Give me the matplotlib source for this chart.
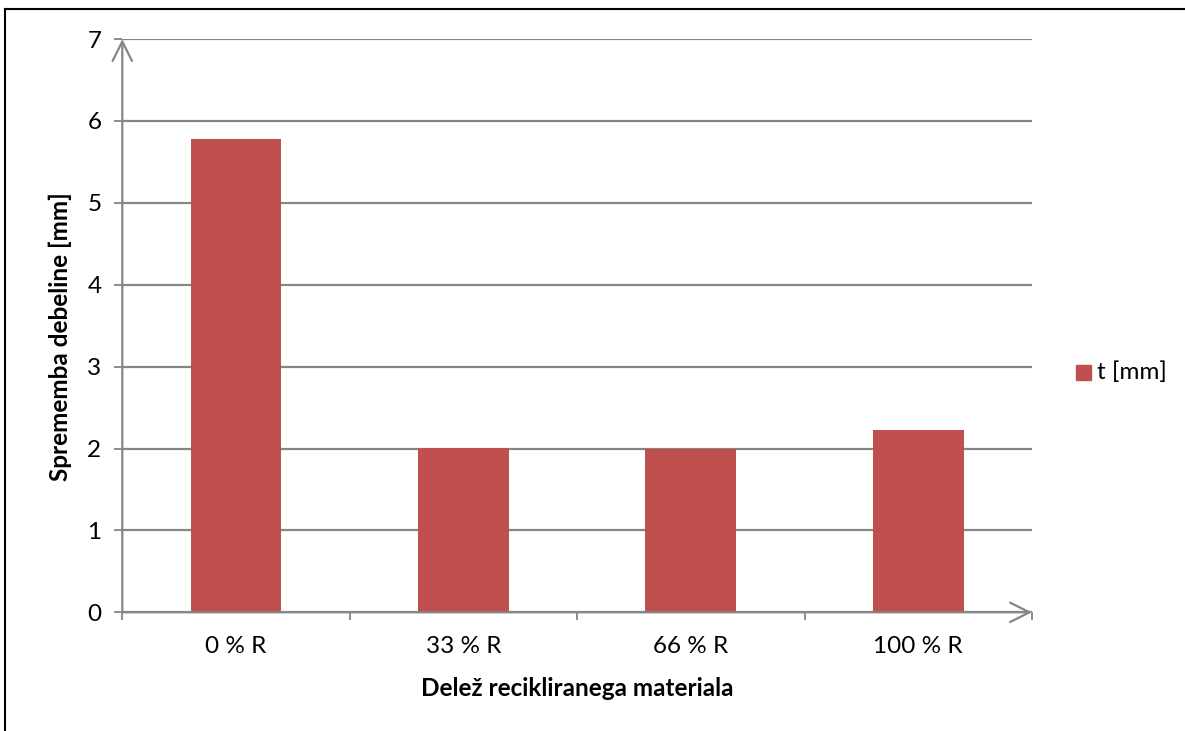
import matplotlib
matplotlib.use("Agg")
import matplotlib.pyplot as plt
from matplotlib.lines import Line2D
from matplotlib.patches import Rectangle

categories = ["0 % R", "33 % R", "66 % R", "100 % R"]
thickness_change = [5.78, 2.01, 2.00, 2.23]
series_label = "t [mm]"
y_ticks = [0, 1, 2, 3, 4, 5, 6, 7]

BAR = "#C0504D"
GRID = "#868686"
TEXT = "#000000"
FONT = "Lato"

plt.rcParams["font.family"] = [FONT, "DejaVu Sans"]

W, H = 1185, 731
fig = plt.figure(figsize=(W / 100, H / 100), dpi=100)
ax = fig.add_axes([122.3 / W, 1 - 612.3 / H, (1032 - 122.3) / W, (612.3 - 39) / H])

x = list(range(len(categories)))
ax.bar(x, thickness_change, width=0.4, color=BAR, zorder=3)

ax.set_xlim(-0.5, len(categories) - 0.5)
ax.set_ylim(0, 7)
ax.set_yticks(y_ticks)
ax.set_xticks(x)
ax.set_xticklabels(categories)
ax.set_xticks([i - 0.5 for i in range(len(categories) + 1)], minor=True)
ax.tick_params(axis="x", which="major", length=0, pad=17, labelsize=17.5, labelcolor=TEXT)
ax.tick_params(axis="x", which="minor", length=6, width=1.3, color=GRID)
ax.tick_params(axis="y", length=6, width=1.3, color=GRID, pad=9, labelsize=17.5, labelcolor=TEXT)
ax.yaxis.grid(True, color=GRID, linewidth=1.6, zorder=0)
ax.set_axisbelow(True)
for s in ax.spines.values():
    s.set_visible(False)

# axis lines drawn as open arrows
arrow = dict(arrowstyle="->,head_length=1.4,head_width=0.7", color=GRID,
             lw=1.6, mutation_scale=10, shrinkA=0, shrinkB=0)
ax.annotate("", xy=(0, 1), xytext=(0, 0), xycoords="axes fraction",
            arrowprops=arrow, annotation_clip=False)
ax.annotate("", xy=(1, 0), xytext=(0, 0), xycoords="axes fraction",
            arrowprops=arrow, annotation_clip=False)

fig.text(60 / W, 1 - 337 / H, "Sprememba debeline [mm]", fontsize=17.5,
         fontweight="bold", rotation=90, ha="center", va="center", color=TEXT)
fig.text(577 / W, 1 - 689 / H, "Delež recikliranega materiala", fontsize=17.5,
         fontweight="bold", ha="center", va="center", color=TEXT)

# legend
fig.patches.append(Rectangle((1076 / W, 1 - 380 / H), 15 / W, 15 / H,
                             transform=fig.transFigure, color=BAR, figure=fig))
fig.text(1097 / W, 1 - 372 / H, series_label, fontsize=17.5, va="center", ha="left",
         color=TEXT)

# outer frame
fig.add_artist(Line2D([5 / W, 1], [1 - 9 / H, 1 - 9 / H], color="black", lw=1.5))
fig.add_artist(Line2D([5 / W, 5 / W], [1 - 9 / H, 0], color="black", lw=1.5))

fig.savefig("out.png", dpi=100)
